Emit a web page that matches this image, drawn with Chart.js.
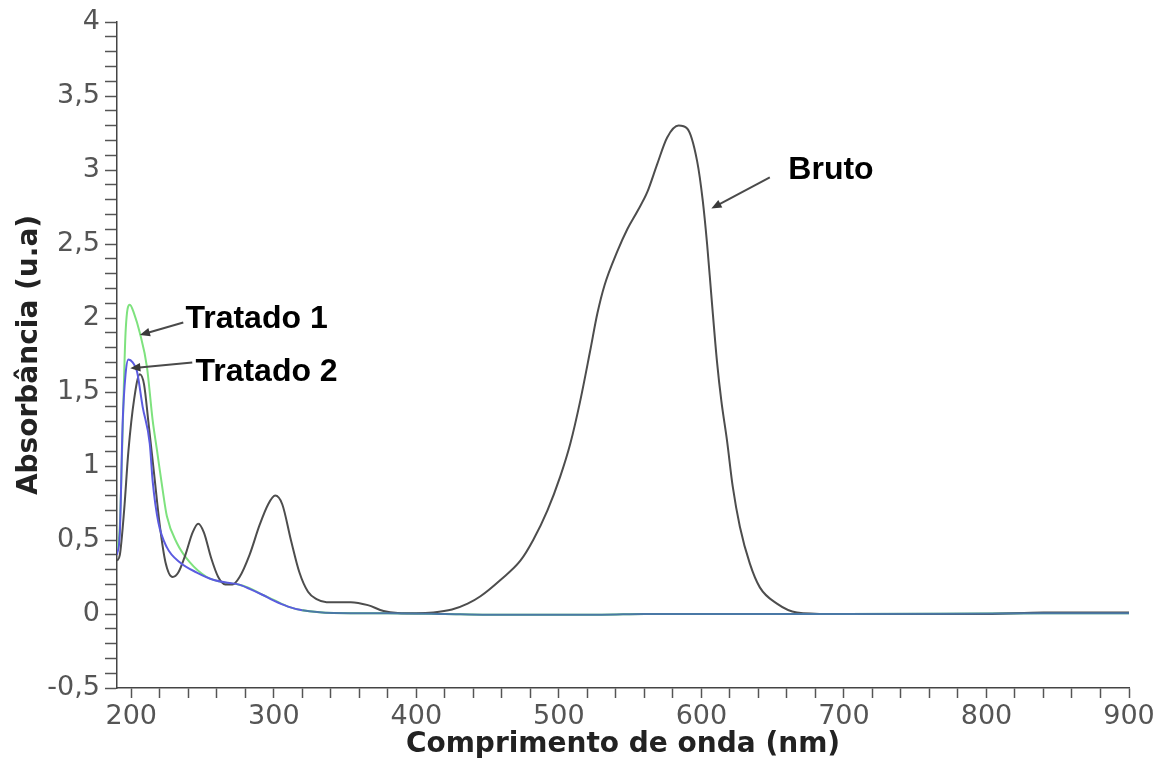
<!DOCTYPE html>
<html>
<head>
<meta charset="utf-8">
<title>Absorbância</title>
<script src="https://cdn.jsdelivr.net/npm/chart.js@4.4.1/dist/chart.umd.min.js"></script>
<style>
    html, body { margin: 0; padding: 0; background: #ffffff; }
    #wrap { width: 1161px; height: 765px; }
</style>
</head>
<body>
<div id="wrap"><canvas id="absChart" width="1161" height="765"></canvas></div>
<script>
const brutoNm = [190, 192, 195, 198, 202, 206, 209, 212, 216, 220, 224, 229, 233, 238, 243, 247, 251, 256, 261, 266, 271, 276, 283, 290, 296, 301, 306, 312, 318, 324, 330, 337, 354, 366, 377, 387, 400, 412, 425, 436, 445, 459, 473, 482, 492, 501, 508, 515, 522, 527, 532, 541, 548, 555, 562, 569, 576, 584, 590, 597, 601, 604, 607, 611, 614, 618, 622, 627, 634, 641, 653, 667, 690, 750, 800, 840, 870, 900];
const brutoAbs = [0.36, 0.4, 0.7, 1.1, 1.45, 1.62, 1.55, 1.3, 0.95, 0.6, 0.35, 0.25, 0.28, 0.4, 0.55, 0.61, 0.55, 0.38, 0.25, 0.2, 0.2, 0.25, 0.4, 0.6, 0.74, 0.8, 0.74, 0.5, 0.28, 0.15, 0.1, 0.08, 0.08, 0.06, 0.02, 0.007, 0.005, 0.01, 0.03, 0.07, 0.12, 0.23, 0.36, 0.5, 0.7, 0.93, 1.15, 1.44, 1.78, 2.03, 2.22, 2.45, 2.6, 2.72, 2.85, 3.04, 3.22, 3.3, 3.28, 3.06, 2.79, 2.5, 2.15, 1.7, 1.44, 1.17, 0.86, 0.59, 0.34, 0.18, 0.07, 0.01, 0.0, 0.0, 0.0, 0.01, 0.01, 0.01];

const tratado1Nm = [190, 192, 194, 196, 199, 202, 206, 211, 215, 218, 222, 225, 232, 241, 253, 267, 275, 283, 292, 300, 310, 320, 342, 380, 420, 450, 530, 560, 700, 840, 900];
const tratado1Abs = [0.42, 0.6, 1.25, 1.9, 2.09, 2.03, 1.9, 1.67, 1.31, 1.11, 0.84, 0.66, 0.48, 0.35, 0.25, 0.21, 0.2, 0.175, 0.13, 0.095, 0.05, 0.025, 0.007, 0.005, 0.0, -0.005, -0.005, 0.0, 0.0, 0.005, 0.005];

const tratado2Nm = [190, 192, 194, 196, 198, 201, 204, 208, 213, 215, 219, 225, 234, 246, 258, 269, 275, 283, 292, 300, 310, 320, 342, 380, 420, 450, 530, 560, 700, 840, 900];
const tratado2Abs = [0.4, 0.55, 1.3, 1.62, 1.72, 1.7, 1.64, 1.4, 1.15, 0.9, 0.62, 0.45, 0.35, 0.28, 0.23, 0.21, 0.2, 0.17, 0.13, 0.09, 0.05, 0.025, 0.007, 0.005, 0.0, -0.005, -0.005, 0.0, 0.0, 0.005, 0.005];

// marcas dos eixos
const xTicks = [];
for (let v = 200; v <= 900; v += 20) xTicks.push(v);
const yTicks = [];
for (let i = -5; i <= 40; i++) yTicks.push(i / 10);

// rótulos com setas
const notes = [
    { text: 'Bruto', x: 661, y: 3.0, fromX: 648, fromY: 2.95, toX: 607, toY: 2.74 },
    { text: 'Tratado 1', x: 238, y: 1.99, fromX: 236.5, fromY: 1.97, toX: 206, toY: 1.885 },
    { text: 'Tratado 2', x: 245, y: 1.635, fromX: 242.8, fromY: 1.70, toX: 199.3, toY: 1.66 }
];

function toPoints(xs, ys) {
    return xs.map((x, i) => ({ x: x, y: ys[i] }));
}

// a cauda sobreposta das duas amostras tratadas fica azul-petróleo
const tailColor = ctx => (ctx.p0.parsed.x >= 320 ? '#4a78a6' : undefined);

const notesPlugin = {
    id: 'notes',
    afterDatasetsDraw(chart) {
        const ctx = chart.ctx;
        const xs = chart.scales.x;
        const ys = chart.scales.y;
        ctx.save();
        notes.forEach(n => {
            const x1 = xs.getPixelForValue(n.fromX), y1 = ys.getPixelForValue(n.fromY);
            const x2 = xs.getPixelForValue(n.toX), y2 = ys.getPixelForValue(n.toY);
            const ang = Math.atan2(y2 - y1, x2 - x1);
            const head = 11;
            ctx.strokeStyle = '#4a4a4a';
            ctx.fillStyle = '#3a3a3a';
            ctx.lineWidth = 2;
            ctx.beginPath();
            ctx.moveTo(x1, y1);
            ctx.lineTo(x2 - Math.cos(ang) * head * 0.6, y2 - Math.sin(ang) * head * 0.6);
            ctx.stroke();
            ctx.beginPath();
            ctx.moveTo(x2, y2);
            ctx.lineTo(x2 - head * Math.cos(ang - 0.4), y2 - head * Math.sin(ang - 0.4));
            ctx.lineTo(x2 - head * Math.cos(ang + 0.4), y2 - head * Math.sin(ang + 0.4));
            ctx.closePath();
            ctx.fill();

            ctx.fillStyle = '#000000';
            ctx.font = 'bold 32px "Liberation Sans", Arial, sans-serif';
            ctx.textAlign = 'left';
            ctx.textBaseline = 'middle';
            ctx.fillText(n.text, xs.getPixelForValue(n.x), ys.getPixelForValue(n.y));
        });
        ctx.restore();
    }
};

new Chart(document.getElementById('absChart'), {
    type: 'line',
    data: {
        datasets: [
            {
                label: 'Tratado 2',
                data: toPoints(tratado2Nm, tratado2Abs),
                borderColor: '#5b5be0',
                borderWidth: 2,
                pointRadius: 0,
                cubicInterpolationMode: 'monotone',
                segment: { borderColor: tailColor },
                order: 0
            },
            {
                label: 'Bruto',
                data: toPoints(brutoNm, brutoAbs),
                borderColor: '#4d4d4d',
                borderWidth: 2,
                pointRadius: 0,
                cubicInterpolationMode: 'monotone',
                order: 1
            },
            {
                label: 'Tratado 1',
                data: toPoints(tratado1Nm, tratado1Abs),
                borderColor: '#7ee27e',
                borderWidth: 2,
                pointRadius: 0,
                cubicInterpolationMode: 'monotone',
                order: 2
            }
        ]
    },
    options: {
        responsive: false,
        animation: false,
        layout: { padding: { left: 0, top: 22, right: 32, bottom: 0 } },
        plugins: {
            legend: { display: false },
            tooltip: { enabled: false }
        },
        scales: {
            x: {
                type: 'linear',
                min: 190,
                max: 900,
                afterBuildTicks: scale => { scale.ticks = xTicks.map(v => ({ value: v })); },
                afterFit: scale => { scale.height = 77; },
                border: { color: '#444444', width: 1.5 },
                grid: { drawOnChartArea: false, drawTicks: true, tickLength: 10, tickColor: '#555555', tickWidth: 1.5 },
                ticks: {
                    autoSkip: false,
                    maxRotation: 0,
                    padding: 3,
                    color: '#555555',
                    font: { family: '"DejaVu Sans", sans-serif', size: 27 },
                    callback: v => (v % 100 === 0 ? String(v) : '')
                },
                title: {
                    display: true,
                    text: 'Comprimento de onda (nm)',
                    color: '#222222',
                    padding: { top: 0, bottom: 3 },
                    font: { family: '"DejaVu Sans", sans-serif', size: 28, weight: 'bold' }
                }
            },
            y: {
                min: -0.5,
                max: 4,
                afterBuildTicks: scale => { scale.ticks = yTicks.map(v => ({ value: v })); },
                afterFit: scale => { scale.width = 117; },
                border: { color: '#444444', width: 1.5 },
                grid: { drawOnChartArea: false, drawTicks: true, tickLength: 12, tickColor: '#555555', tickWidth: 1.5 },
                ticks: {
                    autoSkip: false,
                    padding: 5,
                    color: '#555555',
                    font: { family: '"DejaVu Sans", sans-serif', size: 27 },
                    callback: v => {
                        const h = Math.round(v * 10);
                        return h % 5 === 0 ? String(h / 10).replace('.', ',') : '';
                    }
                },
                title: {
                    display: true,
                    text: 'Absorbância (u.a)',
                    color: '#222222',
                    padding: { top: 13, bottom: 0 },
                    font: { family: '"DejaVu Sans", sans-serif', size: 28, weight: 'bold' }
                }
            }
        }
    },
    plugins: [notesPlugin]
});
</script>
</body>
</html>
